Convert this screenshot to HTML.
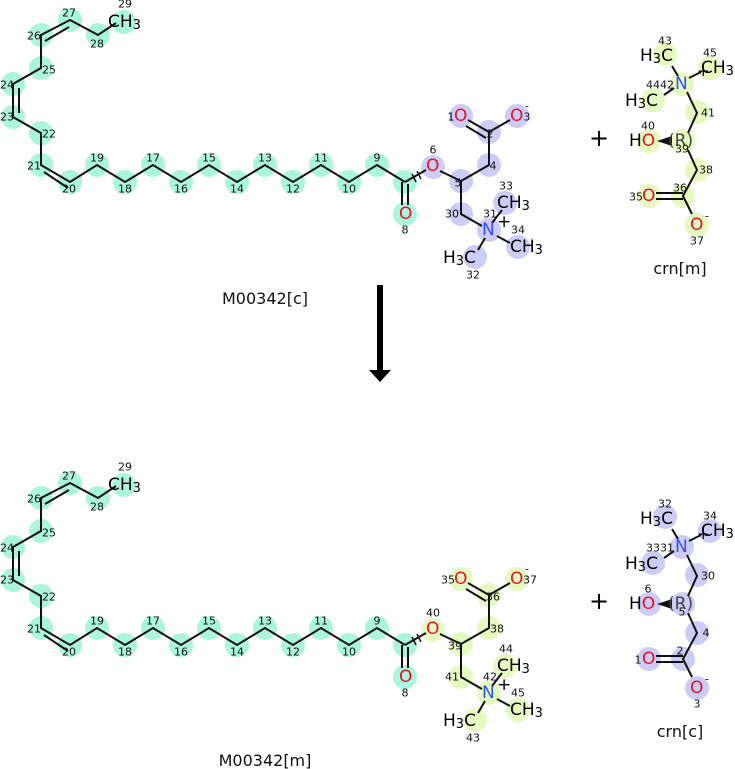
<!DOCTYPE html>
<html><head><meta charset="utf-8"><style>
html,body{margin:0;padding:0;background:#fff;}
svg{display:block;}
.n{font-family:"DejaVu Sans","Liberation Sans",sans-serif;font-size:11px;fill:#111;text-anchor:middle;dominant-baseline:central;}
.a{font-family:"DejaVu Sans","Liberation Sans",sans-serif;font-size:17px;fill:#000;dominant-baseline:central;}
.o{fill:#e8102a;}
.b{fill:#3050f8;}
.t{font-family:"DejaVu Sans","Liberation Sans",sans-serif;font-size:16px;fill:#111;text-anchor:middle;}
line,polyline{stroke:#111;stroke-width:2;fill:none;}
</style></head><body>
<svg width="735" height="769" viewBox="0 0 735 769" xmlns="http://www.w3.org/2000/svg">
<g id="top">
<g fill="#aaf5dc">
<circle cx="124" cy="22" r="12"/><circle cx="98" cy="35" r="12"/><circle cx="70" cy="20" r="12"/><circle cx="41" cy="35" r="12"/><circle cx="41" cy="68" r="12"/><circle cx="13" cy="84" r="12"/><circle cx="13" cy="117" r="12"/><circle cx="41" cy="133" r="12"/><circle cx="41" cy="165" r="12"/><circle cx="70" cy="182" r="12"/><circle cx="97" cy="165" r="12"/><circle cx="125" cy="182" r="12"/><circle cx="153" cy="165" r="12"/><circle cx="181" cy="182" r="12"/><circle cx="209" cy="165" r="12"/><circle cx="237" cy="182" r="12"/><circle cx="265" cy="165" r="12"/><circle cx="293" cy="182" r="12"/><circle cx="321" cy="165" r="12"/><circle cx="349" cy="182" r="12"/><circle cx="377" cy="165" r="12"/><circle cx="405" cy="182" r="12"/><circle cx="405" cy="214" r="12"/>
</g>
<g fill="#ccccf5">
<circle cx="433" cy="167" r="12"/><circle cx="461" cy="181" r="12"/><circle cx="489" cy="165" r="12"/><circle cx="489" cy="132" r="12"/><circle cx="461" cy="116" r="12"/><circle cx="517" cy="116" r="12"/><circle cx="461" cy="214" r="12"/><circle cx="489" cy="230" r="12"/><circle cx="505" cy="203" r="12"/><circle cx="518" cy="247" r="12"/><circle cx="475" cy="257" r="12"/>
</g>
<polyline points="116,23 98,35 70,20 41,35 41,68 13,84 13,117 41,133 41,165 70,182 97,165 125,182 153,165 181,182 209,165 237,182 265,165 293,182 321,165 349,182 377,165 405,182"/>
<line x1="45" y1="41" x2="69" y2="27"/>
<line x1="19" y1="88" x2="19" y2="113"/>
<line x1="44" y1="172" x2="68" y2="188"/>
<line x1="402" y1="182" x2="402" y2="205"/><line x1="408" y1="184" x2="408" y2="205"/>
<line x1="405" y1="182" x2="426" y2="170"/>
<line x1="412" y1="174" x2="416" y2="182" style="stroke-width:1.5"/><line x1="417" y1="171" x2="421" y2="179" style="stroke-width:1.5"/>
<polyline points="440,171 461,181 489,165 489,132"/>
<line x1="489" y1="132" x2="468" y2="120"/><line x1="486" y1="138" x2="466" y2="126"/>
<line x1="489" y1="132" x2="510" y2="120"/>
<polyline points="461,181 461,214 482,226"/>
<line x1="492" y1="223" x2="502" y2="210"/>
<line x1="497" y1="236" x2="510" y2="243"/>
<line x1="485" y1="238" x2="478" y2="250"/>
<text class="a" x="108" y="22">CH<tspan font-size="13" dy="3">3</tspan></text>
<text class="a o" x="399" y="214">O</text>
<text class="a o" x="426" y="166">O</text>
<text class="a o" x="454" y="116">O</text>
<text class="a o" x="510" y="116">O</text>
<text class="a b" x="482" y="230">N</text>
<text class="a" x="497" y="203">CH<tspan font-size="13" dy="3">3</tspan></text>
<text class="a" x="510" y="247">CH<tspan font-size="13" dy="3">3</tspan></text>
<text class="a" x="443" y="258">H<tspan font-size="13" dy="3">3</tspan><tspan dy="-3">C</tspan></text>
<g class="n">
<text x="125" y="4">29</text><text x="97" y="44">28</text><text x="69" y="13">27</text><text x="34" y="36">26</text><text x="49" y="70">25</text><text x="7" y="85">24</text><text x="7" y="117">23</text><text x="49" y="134">22</text><text x="34" y="166">21</text><text x="69" y="189">20</text><text x="97" y="158">19</text><text x="125" y="189">18</text><text x="153" y="158">17</text><text x="181" y="189">16</text><text x="209" y="158">15</text><text x="237" y="189">14</text><text x="265" y="158">13</text><text x="293" y="189">12</text><text x="321" y="158">11</text><text x="349" y="189">10</text><text x="377" y="158">9</text><text x="405" y="230">8</text>
<text x="433" y="150">6</text><text x="458" y="183">5</text><text x="493" y="166">4</text><text x="490" y="134">2</text><text x="451" y="117">1</text><text x="527" y="117">3</text><text x="527" y="106">-</text><text x="452" y="214">30</text><text x="490" y="214">31</text><text x="506" y="186">33</text><text x="518" y="230">34</text><text x="473" y="275">32</text>
</g>
<text class="a" x="497" y="222">+</text>
</g>
<text class="t" x="265" y="304">M00342[c]</text>

<rect x="377" y="285" width="6" height="86" fill="#000"/>
<polygon points="369,370 391,370 380,382" fill="#000"/>

<g transform="translate(0,463)">
<g fill="#aaf5dc">
<circle cx="124" cy="22" r="12"/><circle cx="98" cy="35" r="12"/><circle cx="70" cy="20" r="12"/><circle cx="41" cy="35" r="12"/><circle cx="41" cy="68" r="12"/><circle cx="13" cy="84" r="12"/><circle cx="13" cy="117" r="12"/><circle cx="41" cy="133" r="12"/><circle cx="41" cy="165" r="12"/><circle cx="70" cy="182" r="12"/><circle cx="97" cy="165" r="12"/><circle cx="125" cy="182" r="12"/><circle cx="153" cy="165" r="12"/><circle cx="181" cy="182" r="12"/><circle cx="209" cy="165" r="12"/><circle cx="237" cy="182" r="12"/><circle cx="265" cy="165" r="12"/><circle cx="293" cy="182" r="12"/><circle cx="321" cy="165" r="12"/><circle cx="349" cy="182" r="12"/><circle cx="377" cy="165" r="12"/><circle cx="405" cy="182" r="12"/><circle cx="405" cy="214" r="12"/>
</g>
<g fill="#e5f9c0">
<circle cx="433" cy="167" r="12"/><circle cx="461" cy="181" r="12"/><circle cx="489" cy="165" r="12"/><circle cx="489" cy="132" r="12"/><circle cx="461" cy="116" r="12"/><circle cx="517" cy="116" r="12"/><circle cx="461" cy="214" r="12"/><circle cx="489" cy="230" r="12"/><circle cx="505" cy="203" r="12"/><circle cx="518" cy="247" r="12"/><circle cx="475" cy="257" r="12"/>
</g>
<polyline points="116,23 98,35 70,20 41,35 41,68 13,84 13,117 41,133 41,165 70,182 97,165 125,182 153,165 181,182 209,165 237,182 265,165 293,182 321,165 349,182 377,165 405,182"/>
<line x1="45" y1="41" x2="69" y2="27"/>
<line x1="19" y1="88" x2="19" y2="113"/>
<line x1="44" y1="172" x2="68" y2="188"/>
<line x1="402" y1="182" x2="402" y2="205"/><line x1="408" y1="184" x2="408" y2="205"/>
<line x1="405" y1="182" x2="426" y2="170"/>
<line x1="412" y1="174" x2="416" y2="182" style="stroke-width:1.5"/><line x1="417" y1="171" x2="421" y2="179" style="stroke-width:1.5"/>
<polyline points="440,171 461,181 489,165 489,132"/>
<line x1="489" y1="132" x2="468" y2="120"/><line x1="486" y1="138" x2="466" y2="126"/>
<line x1="489" y1="132" x2="510" y2="120"/>
<polyline points="461,181 461,214 482,226"/>
<line x1="492" y1="223" x2="502" y2="210"/>
<line x1="497" y1="236" x2="510" y2="243"/>
<line x1="485" y1="238" x2="478" y2="250"/>
<text class="a" x="108" y="22">CH<tspan font-size="13" dy="3">3</tspan></text>
<text class="a o" x="399" y="214">O</text>
<text class="a o" x="426" y="166">O</text>
<text class="a o" x="454" y="116">O</text>
<text class="a o" x="510" y="116">O</text>
<text class="a b" x="482" y="230">N</text>
<text class="a" x="497" y="203">CH<tspan font-size="13" dy="3">3</tspan></text>
<text class="a" x="510" y="247">CH<tspan font-size="13" dy="3">3</tspan></text>
<text class="a" x="443" y="258">H<tspan font-size="13" dy="3">3</tspan><tspan dy="-3">C</tspan></text>
<g class="n">
<text x="125" y="4">29</text><text x="97" y="44">28</text><text x="69" y="13">27</text><text x="34" y="36">26</text><text x="49" y="70">25</text><text x="7" y="85">24</text><text x="7" y="117">23</text><text x="49" y="134">22</text><text x="34" y="166">21</text><text x="69" y="189">20</text><text x="97" y="158">19</text><text x="125" y="189">18</text><text x="153" y="158">17</text><text x="181" y="189">16</text><text x="209" y="158">15</text><text x="237" y="189">14</text><text x="265" y="158">13</text><text x="293" y="189">12</text><text x="321" y="158">11</text><text x="349" y="189">10</text><text x="377" y="158">9</text><text x="405" y="230">8</text>
<text x="433" y="150">40</text><text x="455" y="183">39</text><text x="497" y="166">38</text><text x="493" y="134">36</text><text x="448" y="117">35</text><text x="530" y="117">37</text><text x="527" y="106">-</text><text x="452" y="214">41</text><text x="490" y="214">42</text><text x="506" y="186">44</text><text x="518" y="230">45</text><text x="473" y="275">43</text>
</g>
<text class="a" x="497" y="222">+</text>
</g>
<text class="t" x="265" y="766">M00342[m]</text>

<g id="crnm">
<text class="a" x="589" y="138" style="font-size:24px">+</text>
<g fill="#e5f9c0">
<circle cx="665" cy="54" r="12"/><circle cx="710" cy="68" r="12"/><circle cx="682" cy="84" r="12"/><circle cx="653" cy="100" r="12"/><circle cx="697" cy="112" r="12"/><circle cx="683" cy="141" r="12"/><circle cx="649" cy="141" r="12"/><circle cx="697" cy="170" r="12"/><circle cx="683" cy="196" r="12"/><circle cx="649" cy="196" r="12"/><circle cx="697" cy="225" r="12"/>
</g>
<line x1="672" y1="66" x2="678" y2="76"/>
<line x1="689" y1="78" x2="701" y2="72"/>
<line x1="674" y1="88" x2="664" y2="95"/>
<polyline points="687,92 697,113 688,133"/>
<polygon points="657,141 672,136 672,146" fill="#111"/>
<polyline points="688,150 697,170 683,196 692,214"/>
<line x1="656" y1="193" x2="683" y2="193"/><line x1="656" y1="199" x2="683" y2="199"/>
<text class="a" x="640" y="56">H<tspan font-size="13" dy="3">3</tspan><tspan dy="-3">C</tspan></text>
<text class="a" x="701" y="68">CH<tspan font-size="13" dy="3">3</tspan></text>
<text class="a b" x="675" y="84">N</text>
<text class="a" x="625" y="101">H<tspan font-size="13" dy="3">3</tspan><tspan dy="-3">C</tspan></text>
<text class="a" x="629" y="141">H<tspan class="o">O</tspan></text>
<text class="a" x="668" y="141" style="fill:#444">(R)</text>
<text class="a o" x="642" y="196">O</text>
<text class="a o" x="690" y="225">O</text>
<text class="a" x="697" y="71" style="font-size:15px">+</text>
<g class="n">
<text x="665" y="41">43</text><text x="710" y="53">45</text><text x="660" y="85">4442</text><text x="708" y="113">41</text><text x="648" y="126">40</text><text x="682" y="149">39</text><text x="706" y="170">38</text><text x="680" y="188">36</text><text x="636" y="197">35</text><text x="697" y="241">37</text><text x="707" y="216">-</text>
</g>
<text class="t" x="680" y="274">crn[m]</text>
</g>

<g transform="translate(0,463)">
<text class="a" x="589" y="138" style="font-size:24px">+</text>
<g fill="#ccccf5">
<circle cx="665" cy="54" r="12"/><circle cx="710" cy="68" r="12"/><circle cx="682" cy="84" r="12"/><circle cx="653" cy="100" r="12"/><circle cx="697" cy="112" r="12"/><circle cx="683" cy="141" r="12"/><circle cx="649" cy="141" r="12"/><circle cx="697" cy="170" r="12"/><circle cx="683" cy="196" r="12"/><circle cx="649" cy="196" r="12"/><circle cx="697" cy="225" r="12"/>
</g>
<line x1="672" y1="66" x2="678" y2="76"/>
<line x1="689" y1="78" x2="701" y2="72"/>
<line x1="674" y1="88" x2="664" y2="95"/>
<polyline points="687,92 697,113 688,133"/>
<polygon points="657,141 672,136 672,146" fill="#111"/>
<polyline points="688,150 697,170 683,196 692,214"/>
<line x1="656" y1="193" x2="683" y2="193"/><line x1="656" y1="199" x2="683" y2="199"/>
<text class="a" x="640" y="56">H<tspan font-size="13" dy="3">3</tspan><tspan dy="-3">C</tspan></text>
<text class="a" x="701" y="68">CH<tspan font-size="13" dy="3">3</tspan></text>
<text class="a b" x="675" y="84">N</text>
<text class="a" x="625" y="101">H<tspan font-size="13" dy="3">3</tspan><tspan dy="-3">C</tspan></text>
<text class="a" x="629" y="141">H<tspan class="o">O</tspan></text>
<text class="a" x="668" y="141" style="fill:#444">(R)</text>
<text class="a o" x="642" y="196">O</text>
<text class="a o" x="690" y="225">O</text>
<text class="a" x="697" y="71" style="font-size:15px">+</text>
<g class="n">
<text x="665" y="41">32</text><text x="710" y="53">34</text><text x="660" y="85">3331</text><text x="708" y="113">30</text><text x="648" y="126">6</text><text x="682" y="149">5</text><text x="706" y="170">4</text><text x="680" y="188">2</text><text x="638" y="197">1</text><text x="697" y="241">3</text><text x="707" y="216">-</text>
</g>
<text class="t" x="680" y="274">crn[c]</text>
</g>
</svg>
</body></html>
